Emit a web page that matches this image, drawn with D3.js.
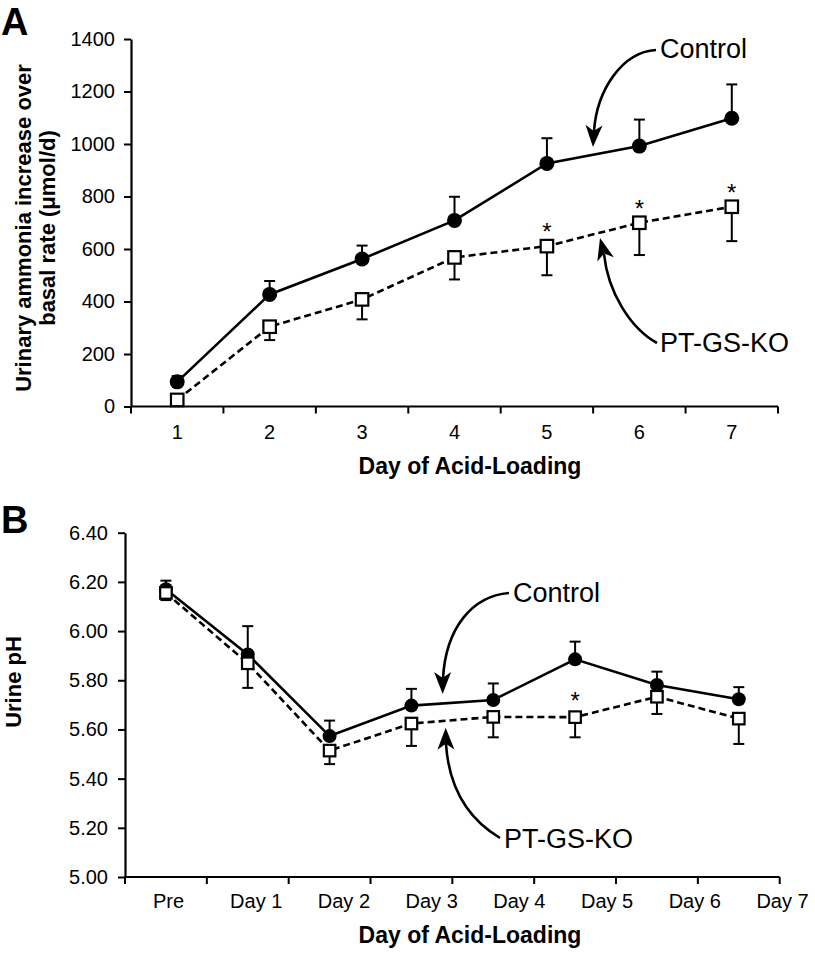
<!DOCTYPE html>
<html>
<head>
<meta charset="utf-8">
<script src="https://cdn.jsdelivr.net/npm/d3@7"></script>
<style>
  html, body { margin: 0; padding: 0; background: #fff; }
  svg { display: block; font-family: "Liberation Sans", Arial, sans-serif; }
</style>
</head>
<body>
<svg id="chart" width="815" height="954"></svg>
<script>
// ---------- Panel A data ----------
const aDays = ["1", "2", "3", "4", "5", "6", "7"];
const aControl = [94, 427, 562, 709, 926, 992, 1098];
const aControlSE = [22, 51, 51, 90, 96, 101, 129];
const aKO = [25, 304, 408, 568, 611, 700, 761];
const aKOSE = [15, 51, 76, 84, 111, 123, 131];
const aSig = [false, false, false, false, true, true, true];
const aYTicks = [0, 200, 400, 600, 800, 1000, 1200, 1400];

// ---------- Panel B data ----------
const bDays = ["Pre", "Day 1", "Day 2", "Day 3", "Day 4", "Day 5", "Day 6", "Day 7"];
const bControl = [6.17, 5.905, 5.573, 5.697, 5.72, 5.885, 5.781, 5.723];
const bControlSE = [0.035, 0.115, 0.063, 0.068, 0.067, 0.072, 0.054, 0.049];
const bKO = [6.155, 5.869, 5.514, 5.624, 5.651, 5.650, 5.733, 5.644];
const bKOSE = [0.029, 0.10, 0.055, 0.091, 0.083, 0.082, 0.07, 0.103];
const bSig = [false, false, false, false, false, true, false, false];
const bYTicks = [5.0, 5.2, 5.4, 5.6, 5.8, 6.0, 6.2, 6.4];

const svg = d3.select("#chart");

function arrowHead(g, tip, from) {
  const dx = tip[0] - from[0], dy = tip[1] - from[1];
  const len = Math.hypot(dx, dy);
  const d = [dx / len, dy / len];
  const p = [-d[1], d[0]];
  const L = 22, W = 8.5, N = 6;
  const pts = [
    tip,
    [tip[0] - L * d[0] + W * p[0], tip[1] - L * d[1] + W * p[1]],
    [tip[0] - (L - N) * d[0], tip[1] - (L - N) * d[1]],
    [tip[0] - L * d[0] - W * p[0], tip[1] - L * d[1] - W * p[1]]
  ];
  g.append("path").attr("d", "M" + pts.map(q => q.join(",")).join("L") + "Z").attr("fill", "#000");
}

function drawPanel(cfg) {
  const g = svg.append("g");
  const x = cfg.x, y = cfg.y;
  const xc = d => x(d) + x.bandwidth() / 2;
  const y0 = y.range()[0];

  // y axis
  const yAxis = g.append("g").attr("transform", `translate(${x.range()[0]},0)`)
    .call(d3.axisLeft(y).tickValues(cfg.yTicks).tickFormat(cfg.yFormat).tickSize(7).tickSizeOuter(0).tickPadding(cfg.yPad));
  yAxis.selectAll("text").attr("font-size", 20).attr("fill", "#000").attr("font-family", "Liberation Sans, Arial, sans-serif");
  yAxis.selectAll("line").attr("stroke", "#000").attr("stroke-width", 2);
  yAxis.select(".domain").attr("stroke", "#000").attr("stroke-width", 2.2);

  // x axis line + labels
  const labScale = cfg.xLab || x;
  const xAxis = g.append("g").attr("transform", `translate(0,${y0})`)
    .call(d3.axisBottom(labScale).tickSize(0).tickSizeOuter(0).tickPadding(cfg.xPad));
  xAxis.selectAll("text").attr("font-size", 20).attr("fill", "#000").attr("font-family", "Liberation Sans, Arial, sans-serif");
  xAxis.select(".domain").remove();
  g.append("line").attr("x1", x.range()[0]).attr("x2", x.range()[1])
    .attr("y1", y0).attr("y2", y0).attr("stroke", "#000").attr("stroke-width", 2.2);
  const edges = x.domain().map(d => x(d)).concat([x.range()[1]]);
  g.selectAll(".xt").data(edges).enter().append("line")
    .attr("x1", d => d).attr("x2", d => d).attr("y1", y0).attr("y2", y0 + 7)
    .attr("stroke", "#000").attr("stroke-width", 2);

  const cats = x.domain().slice(0, cfg.control.length);
  const line = d3.line().x((v, i) => xc(cats[i])).y(v => y(v));

  // lines
  g.append("path").attr("d", line(cfg.control)).attr("fill", "none")
    .attr("stroke", "#000").attr("stroke-width", 2.6);
  g.append("path").attr("d", line(cfg.ko)).attr("fill", "none")
    .attr("stroke", "#000").attr("stroke-width", 2.6).attr("stroke-dasharray", "7,4");

  // error bars
  const cap = 5.5;
  cats.forEach((c, i) => {
    const cx = xc(c);
    const top = y(cfg.control[i] + cfg.controlSE[i]);
    g.append("line").attr("x1", cx).attr("x2", cx).attr("y1", y(cfg.control[i])).attr("y2", top).attr("stroke", "#000").attr("stroke-width", 2);
    g.append("line").attr("x1", cx - cap).attr("x2", cx + cap).attr("y1", top).attr("y2", top).attr("stroke", "#000").attr("stroke-width", 2);
    const bot = y(cfg.ko[i] - cfg.koSE[i]);
    g.append("line").attr("x1", cx).attr("x2", cx).attr("y1", y(cfg.ko[i])).attr("y2", bot).attr("stroke", "#000").attr("stroke-width", 2);
    g.append("line").attr("x1", cx - cap).attr("x2", cx + cap).attr("y1", bot).attr("y2", bot).attr("stroke", "#000").attr("stroke-width", 2);
  });

  // markers
  g.selectAll(".ctl").data(cfg.control).enter().append("circle")
    .attr("cx", (v, i) => xc(cats[i])).attr("cy", v => y(v)).attr("r", cfg.r).attr("fill", "#000");
  const s = cfg.sq;
  g.selectAll(".ko").data(cfg.ko).enter().append("rect")
    .attr("x", (v, i) => xc(cats[i]) - s / 2).attr("y", v => y(v) - s / 2)
    .attr("width", s).attr("height", s).attr("fill", "#fff").attr("stroke", "#000").attr("stroke-width", 2.2);

  // significance asterisks
  g.selectAll(".sig").data(cfg.ko.map((v, i) => ({ v, i })).filter(d => cfg.sig[d.i])).enter().append("text")
    .attr("x", d => xc(cats[d.i])).attr("y", d => y(d.v) + cfg.starDy)
    .attr("text-anchor", "middle").attr("font-size", 24).text("*");

  // axis titles
  g.append("text").attr("x", cfg.xTitle[0]).attr("y", cfg.xTitle[1]).attr("text-anchor", "middle")
    .attr("font-size", 23).attr("font-weight", "bold").text("Day of Acid-Loading");
  cfg.yTitleLines.forEach((t, k) => {
    g.append("text").attr("transform", `translate(${cfg.yTitleX[k]},${cfg.yTitleY}) rotate(-90)`)
      .attr("text-anchor", "middle").attr("font-size", 22).attr("font-weight", "bold").text(t);
  });
  g.append("text").attr("x", cfg.panelPos[0]).attr("y", cfg.panelPos[1])
    .attr("font-size", 38).attr("font-weight", "bold").text(cfg.panel);

  // annotations
  cfg.notes.forEach(n => {
    g.append("path").attr("d", n.path).attr("fill", "none").attr("stroke", "#000").attr("stroke-width", 2.6);
    arrowHead(g, n.tip, n.from);
    g.append("text").attr("x", n.text[0]).attr("y", n.text[1]).attr("font-size", 27).text(n.label);
  });
}

const xA = d3.scaleBand().domain(aDays).range([131, 778]);
const yA = d3.scaleLinear().domain([0, 1400]).range([406.5, 39]);
drawPanel({
  x: xA, y: yA, yTicks: aYTicks, yFormat: d3.format("d"), yPad: 9, xPad: 18,
  control: aControl, controlSE: aControlSE, ko: aKO, koSE: aKOSE, sig: aSig,
  r: 7.5, sq: 12.5, starDy: -6,
  xTitle: [470, 474], yTitleLines: ["Urinary ammonia increase over", "basal rate (\u03bcmol/d)"],
  yTitleX: [31, 55], yTitleY: 228, panel: "A", panelPos: [1, 35],
  notes: [
    { label: "Control", text: [660, 58], path: "M656,50 C622,52 597,90 594,131", tip: [593, 147], from: [594, 125] },
    { label: "PT-GS-KO", text: [660, 352], path: "M657,343 C630,328 608,292 604,254", tip: [600, 238], from: [605.5, 259] }
  ]
});

const xB = d3.scaleBand().domain(bDays).range([125, 779.7]);
const xBLab = d3.scalePoint().domain(bDays).range([168, 782]);
const yB = d3.scaleLinear().domain([5.0, 6.4]).range([877, 532.7]);
drawPanel({
  x: xB, xLab: xBLab, y: yB, yTicks: bYTicks, yFormat: d3.format(".2f"), yPad: 10, xPad: 17,
  control: bControl, controlSE: bControlSE, ko: bKO, koSE: bKOSE, sig: bSig,
  r: 7, sq: 11.5, starDy: -8,
  xTitle: [470, 943], yTitleLines: ["Urine pH"], yTitleX: [21], yTitleY: 682,
  panel: "B", panelPos: [1, 533],
  notes: [
    { label: "Control", text: [513, 602], path: "M509,593 C472,596 446,628 443,678", tip: [442.7, 694], from: [442.6, 676] },
    { label: "PT-GS-KO", text: [504, 848], path: "M500,838 C470,820 449,790 446,744", tip: [445.7, 727.7], from: [445.9, 746.7] }
  ]
});
</script>
</body>
</html>
